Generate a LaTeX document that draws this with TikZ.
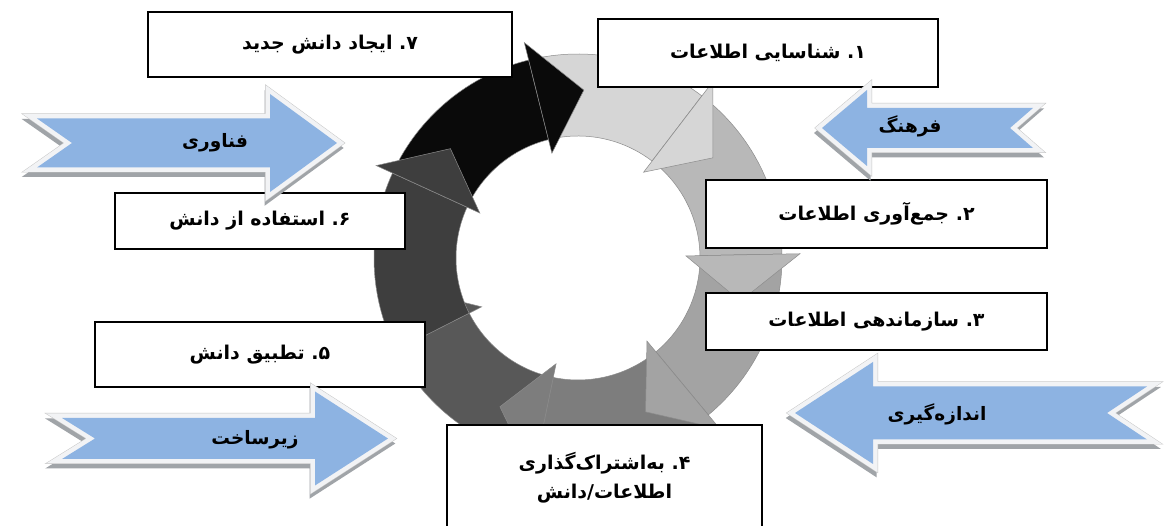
\documentclass[tikz,border=0pt]{standalone}
\usepackage{fontspec}
\TeXXeTstate=1
\newfontfamily\fa[Script=Arabic]{DejaVu Sans}
\definecolor{s1}{HTML}{D6D6D6}
\definecolor{s2}{HTML}{B8B8B8}
\definecolor{s3}{HTML}{A3A3A3}
\definecolor{s4}{HTML}{7D7D7D}
\definecolor{s5}{HTML}{585858}
\definecolor{s6}{HTML}{3E3E3E}
\definecolor{s7}{HTML}{0A0A0A}
\definecolor{blueA}{HTML}{8DB3E2}
\definecolor{bordA}{HTML}{F2F3F5}
\definecolor{shadA}{HTML}{A0A4A8}
\newcommand\BArrow[1]{%
  \draw[arrshadow, shift={(-1,-5)}] #1 -- cycle;
  \draw[arredge] #1 -- cycle;
  \draw[arrborder] #1 -- cycle;
  \fill[arrfill] #1 -- cycle;}
\begin{document}
\begin{tikzpicture}[x=1pt,y=1pt,
  box/.style={draw=black, line width=1.6pt, fill=white, inner sep=0pt,
    font=\fa\bfseries\fontsize{19}{29}\selectfont},
  lbl/.style={font=\fa\bfseries\fontsize{18.5}{22}\selectfont, inner sep=0pt},
  seg/.style={draw=black!45, line width=0.5pt, line join=miter},
  arrshadow/.style={fill=shadA, draw=shadA, line width=9pt, line join=miter},
  arredge/.style={draw=black!22, line width=10pt, line join=miter},
  arrborder/.style={fill=bordA, draw=bordA, line width=9pt, line join=miter},
  arrfill/.style={fill=blueA}]
\useasboundingbox (0,0) rectangle (1171,526);
\fill[white] (0,0) rectangle (1171,526);

% ring of seven arrows
\begin{scope}[shift={(578,268)}]
% head of segment 5 lies under the start of segment 6
\draw[seg, fill=s5] (-153.1:108) -- (-153.1:222) -- (-169.1:168) -- cycle;
\foreach \s/\e/\c in {104/52.6/s1,52.6/1.1/s2,1.1/-50.3/s3,-50.3/-101.7/s4,-101.7/-153.1/s5,-153.1/-204.6/s6,-204.6/-256/s7}
  \draw[seg, fill=\c] (\s:204) arc[start angle=\s, end angle=\e, radius=204]
     -- (\e:122) arc[start angle=\e, end angle=\s, radius=122] -- cycle;
\foreach \e/\c in {52.6/s1,1.1/s2,-50.3/s3,-101.7/s4,-204.6/s6,-256/s7}
  \draw[seg, fill=\c] (\e:108) -- (\e:222) -- (\e-16:168) -- cycle;
\end{scope}

% boxes
\node[box, minimum width=364pt, minimum height=65pt] (b7) at (330,481.5)
  {\beginR\mbox{۷}\mbox{.}\ ایجاد دانش جدید\endR};
\node[box, minimum width=340pt, minimum height=68pt] (b1) at (768,473)
  {\beginR\mbox{۱}\mbox{.}\ شناسایی اطلاعات\endR};
\node[box, minimum width=341pt, minimum height=68pt] (b2) at (876.5,312)
  {\beginR\mbox{۲}\mbox{.}\ جمع^^^^200cآوری اطلاعات\endR};
\node[box, minimum width=341pt, minimum height=57pt] (b3) at (876.5,204.5)
  {\beginR\mbox{۳}\mbox{.}\ سازماندهی اطلاعات\endR};
\node[box, minimum width=315pt, minimum height=105pt, align=center] (b4) at (604.5,48.5)
  {\beginR\mbox{۴}\mbox{.}\ به^^^^200cاشتراک^^^^200cگذاری\endR\\
   \beginR اطلاعات\mbox{/}دانش\endR};
\node[box, minimum width=330pt, minimum height=65pt] (b5) at (260,171.5)
  {\beginR\mbox{۵}\mbox{.}\ تطبیق دانش\endR};
\node[box, minimum width=290pt, minimum height=56pt] (b6) at (260,305)
  {\beginR\mbox{۶}\mbox{.}\ استفاده از دانش\endR};

% blue arrows
\BArrow{(37,407.5) -- (270,407.5) -- (270,432) -- (337,383) -- (270,334) -- (270,358.5) -- (37,358.5) -- (72,383)}
\node[lbl] (a1) at (215,383) {\beginR فناوری\endR};

\BArrow{(62,108) -- (315,108) -- (315,134.5) -- (388,87.5) -- (315,40.5) -- (315,67) -- (62,67) -- (95,87.5)}
\node[lbl] (a2) at (255,86) {\beginR زیرساخت\endR};

\BArrow{(822,398) -- (867,436) -- (867,418) -- (1033,418) -- (1010,398) -- (1033,378) -- (867,378) -- (867,360)}
\node[lbl] (a3) at (910,400) {\beginR فرهنگ\endR};

\BArrow{(795,113) -- (873,164) -- (873,139.5) -- (1147,139.5) -- (1107,113) -- (1147,86.5) -- (873,86.5) -- (873,62)}
\node[lbl] (a4) at (937,112) {\beginR اندازه^^^^200cگیری\endR};
\end{tikzpicture}
\end{document}
